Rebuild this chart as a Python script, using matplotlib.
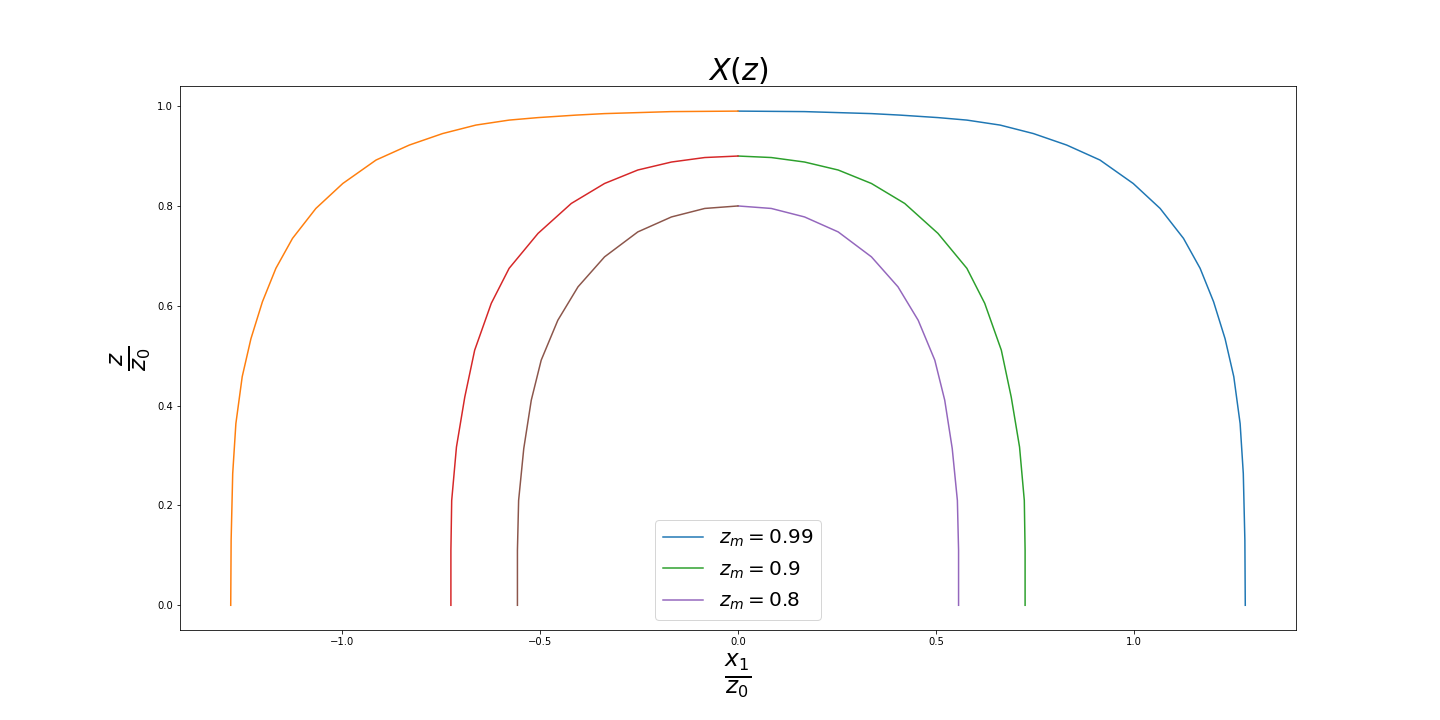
import numpy as np
import matplotlib
matplotlib.use("Agg")
import matplotlib.pyplot as plt

# points, right half (x1/z0, z/z0); left half is the mirror
x_099 = [0.0, 0.168, 0.337, 0.409, 0.505, 0.578, 0.662, 0.746, 0.830, 0.914,
         0.998, 1.066, 1.125, 1.167, 1.201, 1.230, 1.252, 1.268, 1.276, 1.280,
         1.281]
z_099 = [0.990, 0.989, 0.985, 0.982, 0.977, 0.972, 0.962, 0.945, 0.922, 0.892,
         0.845, 0.795, 0.735, 0.675, 0.608, 0.534, 0.458, 0.364, 0.264, 0.130,
         0.0]

x_09 = [0.0, 0.084, 0.168, 0.253, 0.337, 0.421, 0.505, 0.578, 0.623, 0.665,
        0.690, 0.711, 0.723, 0.725, 0.725]
z_09 = [0.900, 0.897, 0.888, 0.872, 0.845, 0.805, 0.745, 0.675, 0.605, 0.511,
        0.417, 0.317, 0.210, 0.110, 0.0]

x_08 = [0.0, 0.084, 0.168, 0.253, 0.337, 0.404, 0.455, 0.497, 0.522, 0.541,
        0.554, 0.557, 0.557]
z_08 = [0.800, 0.795, 0.778, 0.748, 0.698, 0.638, 0.571, 0.491, 0.411, 0.314,
        0.210, 0.110, 0.0]

labels = ["$z_m=0.99$", "$z_m=0.9$", "$z_m=0.8$"]

fig = plt.figure(figsize=(20, 10), dpi=72)
ax = fig.add_subplot(111)
fig.subplots_adjust(left=0.125, right=0.9, top=0.88, bottom=0.125)

for xs, zs, lab in zip([x_099, x_09, x_08], [z_099, z_09, z_08], labels):
    xs = np.array(xs)
    ax.plot(xs, zs, label=lab)
    ax.plot(-xs, zs)

ax.set_title("$X(z)$", fontsize=30)
ax.set_xlabel(r"$\frac{x_1}{z_0}$", fontsize=33)
ax.set_ylabel(r"$\frac{z}{z_0}$", fontsize=33)
ax.legend(loc="lower center", fontsize=20)

fig.savefig("out.png", dpi=72)
